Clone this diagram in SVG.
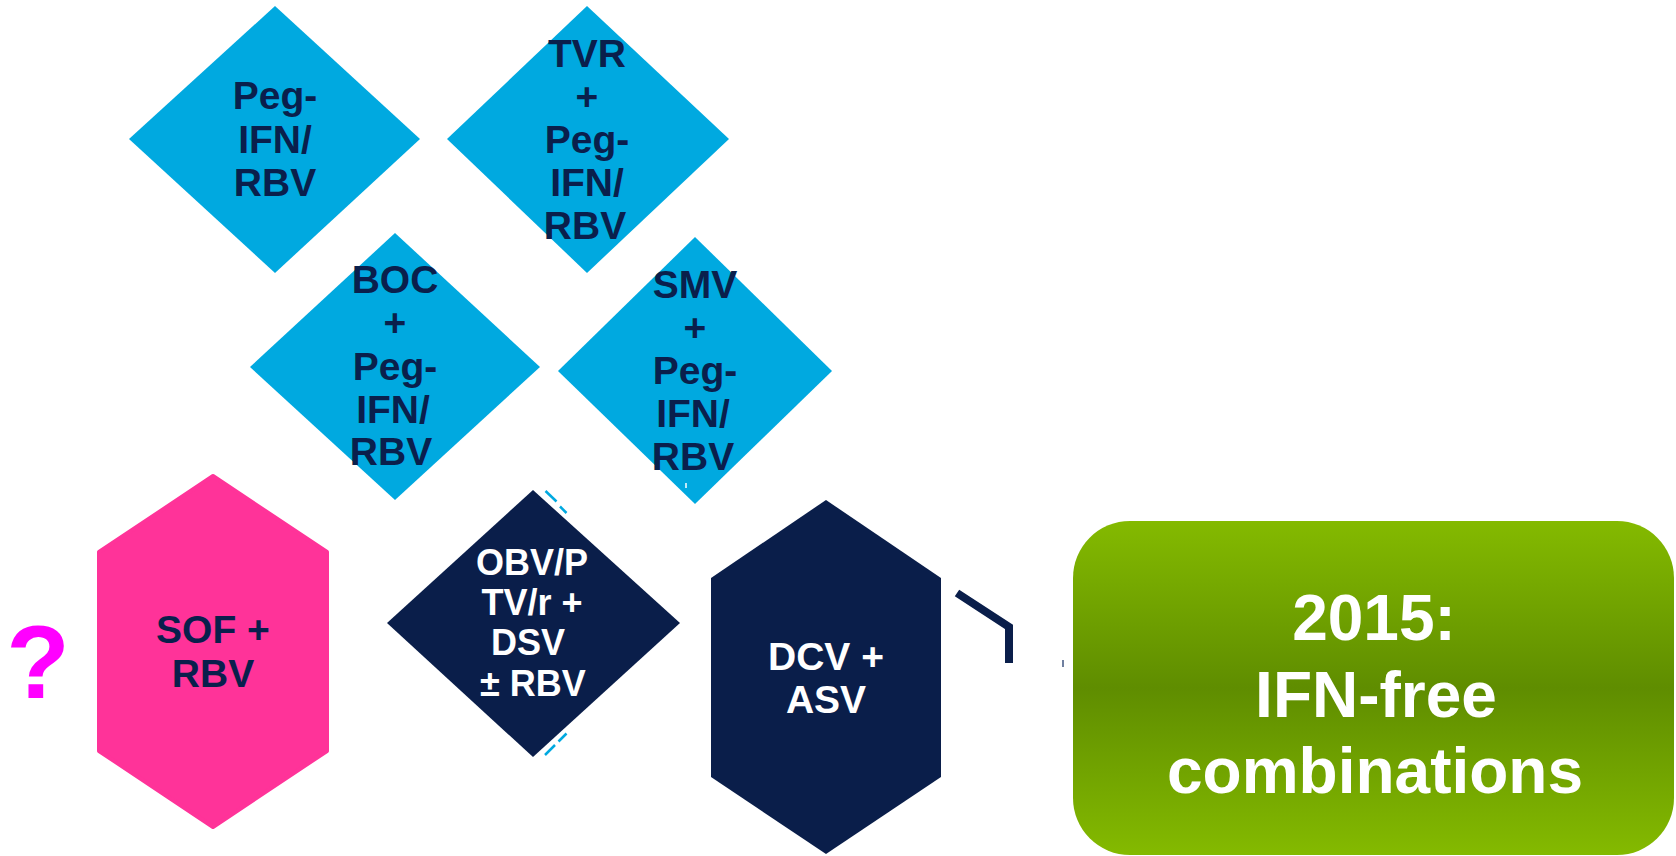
<svg xmlns="http://www.w3.org/2000/svg" width="1676" height="856" viewBox="0 0 1676 856">
  <defs>
    <linearGradient id="greenGrad" x1="0" y1="0" x2="0" y2="1">
      <stop offset="0" stop-color="#84ba00"/>
      <stop offset="0.5" stop-color="#5f8d00"/>
      <stop offset="1" stop-color="#84ba00"/>
    </linearGradient>
    <style>
      .t { font-family: "Liberation Sans", Arial, sans-serif; font-weight: bold; text-anchor: middle; }
      .big { font-size: 39px; }
      .dark { fill: #0a1f4c; }
      .white { fill: #ffffff; }
      .blue { fill: #00a9e0; }
      .navy { fill: #0a1e4a; }
      .pink { fill: #ff3399; stroke: #ff3399; stroke-width: 4; stroke-linejoin: round; }
      .frag { stroke: #00a9e0; stroke-width: 2.5; fill: none; }
    </style>
  </defs>
  <rect width="1676" height="856" fill="#ffffff"/>

  <g id="node-pegifn">
    <polygon class="blue" points="275,6 420,139 275,273 129,139"/>
    <text class="t big dark" x="275" y="109">Peg-</text>
    <text class="t big dark" x="275" y="153">IFN/</text>
    <text class="t big dark" x="275" y="196">RBV</text>
  </g>

  <g id="node-tvr">
    <polygon class="blue" points="587,6 729,139 587,273 447,139"/>
    <text class="t big dark" x="587" y="67">TVR</text>
    <text class="t big dark" x="587" y="110">+</text>
    <text class="t big dark" x="587" y="153">Peg-</text>
    <text class="t big dark" x="587" y="196">IFN/</text>
    <text class="t big dark" x="585" y="239">RBV</text>
  </g>

  <g id="node-boc">
    <polygon class="blue" points="395,233 540,367 395,500 250,367"/>
    <text class="t big dark" x="395" y="293">BOC</text>
    <text class="t big dark" x="395" y="336">+</text>
    <text class="t big dark" x="395" y="380">Peg-</text>
    <text class="t big dark" x="393" y="423">IFN/</text>
    <text class="t big dark" x="391" y="465">RBV</text>
  </g>

  <g id="node-smv">
    <polygon class="blue" points="695,237 832,371 695,504 558,371"/>
    <text class="t big dark" x="695" y="298">SMV</text>
    <text class="t big dark" x="695" y="341">+</text>
    <text class="t big dark" x="695" y="384">Peg-</text>
    <text class="t big dark" x="693" y="427">IFN/</text>
    <text class="t big dark" x="693" y="470">RBV</text>
    <line x1="686" y1="483" x2="686" y2="488" stroke="#ffffff" stroke-width="1.5"/>
  </g>

  <g id="node-question">
    <text class="t" x="38" y="698" font-size="104" fill="#ff00ff">?</text>
  </g>

  <g id="node-sof">
    <polygon class="pink" points="213,476 327,552 327,751 213,827 99,751 99,552"/>
    <text class="t big dark" x="213" y="643">SOF +</text>
    <text class="t big dark" x="213" y="687">RBV</text>
  </g>

  <g id="node-obv">
    <line class="frag" x1="545.5" y1="491" x2="556.5" y2="501.5"/>
    <line class="frag" x1="560" y1="506.5" x2="566.5" y2="513"/>
    <line class="frag" x1="545" y1="755" x2="555" y2="745"/>
    <line class="frag" x1="558.5" y1="741.5" x2="566.5" y2="733.5"/>
    <polygon class="navy" points="533,490 680,623 533,757 387,623"/>
    <text class="t white" font-size="36" x="532" y="575">OBV/P</text>
    <text class="t white" font-size="36" x="532" y="615">TV/r +</text>
    <text class="t white" font-size="36" x="528" y="655">DSV</text>
    <text class="t white" font-size="36" x="533" y="696">± RBV</text>
  </g>

  <g id="node-dcv">
    <polygon class="navy" points="826,500 941,578 941,777 826,854 711,777 711,578"/>
    <text class="t big white" x="826" y="670">DCV +</text>
    <text class="t big white" x="826" y="713">ASV</text>
  </g>

  <g id="connectors">
    <polyline points="957,593 1009,627 1009,663" fill="none" stroke="#0a1e4a" stroke-width="8" stroke-linejoin="miter"/>
    <line x1="1063" y1="660" x2="1063" y2="667" stroke="#7080a0" stroke-width="2"/>
  </g>

  <g id="node-2015">
    <rect x="1073" y="521" width="601" height="334" rx="57" ry="57" fill="url(#greenGrad)"/>
    <text class="t white" font-size="64" x="1374" y="640">2015:</text>
    <text class="t white" font-size="64" x="1376" y="717">IFN-free</text>
    <text class="t white" font-size="64" x="1375" y="793">combinations</text>
  </g>
</svg>
